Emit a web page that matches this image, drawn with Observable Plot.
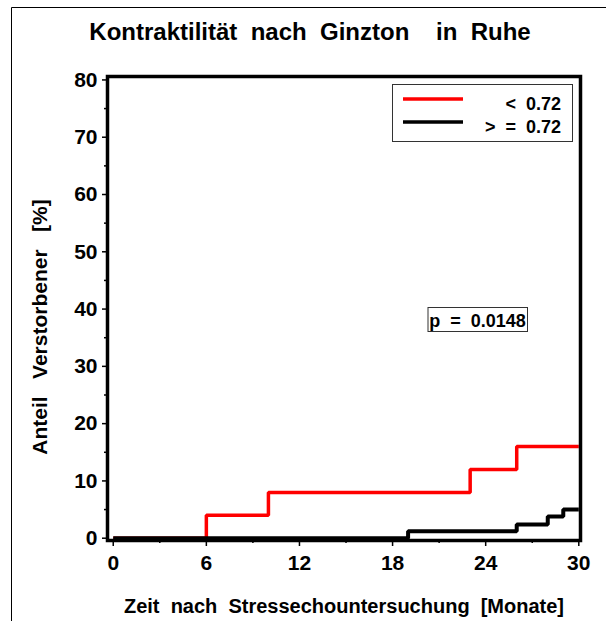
<!DOCTYPE html>
<html>
<head>
<meta charset="utf-8">
<script src="https://cdn.jsdelivr.net/npm/d3@7"></script>
<script src="https://cdn.jsdelivr.net/npm/@observablehq/plot@0.6"></script>
<style>
  body { margin: 0; background: #fff; }
  #chart svg { display: block; }
</style>
</head>
<body>
<div id="chart"></div>
<script>
// ---- data ----
const title = "Kontraktilität  nach  Ginzton    in  Ruhe";
const xLabel = "Zeit  nach  Stressechountersuchung  [Monate]";
const yLabel = "Anteil   Verstorbener   [%]";
const xTicks = [0, 6, 12, 18, 24, 30];
const xMinorTicks = [3, 9, 15, 21, 27];
const yTicks = [0, 10, 20, 30, 40, 50, 60, 70, 80];
const yMinorTicks = [5, 15, 25, 35, 45, 55, 65, 75];
const redMonths = [0, 6, 10, 23, 26, 30];
const redValues = [0, 4, 8, 12, 16, 16];
const blackMonths = [0, 19, 26, 28, 29, 30];
const blackValues = [0, 1.2, 2.4, 3.8, 5, 5];
const legendLabels = ["<  0.72", ">  =  0.72"];
const pText = "p  =  0.0148";

const red = redMonths.map((m, i) => ({ m, v: redValues[i] }));
const black = blackMonths.map((m, i) => ({ m, v: blackValues[i] }));

const font = "'Liberation Sans', Arial, sans-serif";

const chart = Plot.plot({
  width: 606,
  height: 621,
  marginLeft: 107,
  marginRight: 26,
  marginTop: 76,
  marginBottom: 81,
  style: { fontFamily: font, fontWeight: "bold", color: "#000", background: "#fff", overflow: "visible" },
  x: { domain: [-0.37, 30.11] },
  y: { domain: [-0.4, 80.6] },
  marks: [
    Plot.axisX({ ticks: xTicks, tickSize: 6, tickPadding: 9, label: null, strokeWidth: 1.5, fontSize: 21 }),
    Plot.axisX({ ticks: xMinorTicks, tickSize: 3, text: null, label: null, strokeWidth: 1.5 }),
    Plot.axisY({ ticks: yTicks, tickSize: 5, tickPadding: 5, label: null, strokeWidth: 1.5, fontSize: 21 }),
    Plot.axisY({ ticks: yMinorTicks, tickSize: 3, text: null, label: null, strokeWidth: 1.5 }),
    Plot.line(red, { x: "m", y: "v", curve: "step-after", stroke: "#ff0000", strokeWidth: 3.5, strokeLinejoin: "miter", strokeLinecap: "butt" }),
    Plot.line(black, { x: "m", y: "v", curve: "step-after", stroke: "#000", strokeWidth: 4, strokeLinejoin: "miter", strokeLinecap: "butt" }),
    Plot.frame({ stroke: "#000", strokeWidth: 3.5 })
  ]
});

document.getElementById("chart").appendChild(chart);

const svg = d3.select(chart);

// outer border (top and left)
svg.append("path")
  .attr("d", "M11.5,621 V7.5 H606")
  .attr("fill", "none").attr("stroke", "#000").attr("stroke-width", 1);

function addText(sel, x, y, txt, size, anchor) {
  return sel.append("text")
    .attr("x", x).attr("y", y)
    .attr("text-anchor", anchor || "middle")
    .attr("font-family", font).attr("font-size", size).attr("font-weight", "bold")
    .style("white-space", "pre")
    .text(txt);
}

// title
addText(svg, 310, 40, title, 24);
// x label
addText(svg, 344, 613, xLabel, 20);
// y label
addText(svg, 0, 0, yLabel, 21).attr("transform", "translate(47,327) rotate(-90)");

// legend box
const lg = svg.append("g");
lg.append("rect").attr("x", 392.5).attr("y", 84.5).attr("width", 180).attr("height", 57)
  .attr("fill", "#fff").attr("stroke", "#333").attr("stroke-width", 1);
[["#ff0000", 99, 109.5], ["#000", 122, 133]].forEach(([c, ly, ty], i) => {
  lg.append("line").attr("x1", 403).attr("x2", 463).attr("y1", ly).attr("y2", ly)
    .attr("stroke", c).attr("stroke-width", 3.5);
  addText(lg, 561, ty, legendLabels[i], 18, "end");
});

// p value box
const pg = svg.append("g");
pg.append("rect").attr("x", 428).attr("y", 307.5).attr("width", 99.5).attr("height", 24)
  .attr("fill", "#fff").attr("stroke", "#333").attr("stroke-width", 1);
addText(pg, 477.5, 327, pText, 18);
</script>
</body>
</html>
